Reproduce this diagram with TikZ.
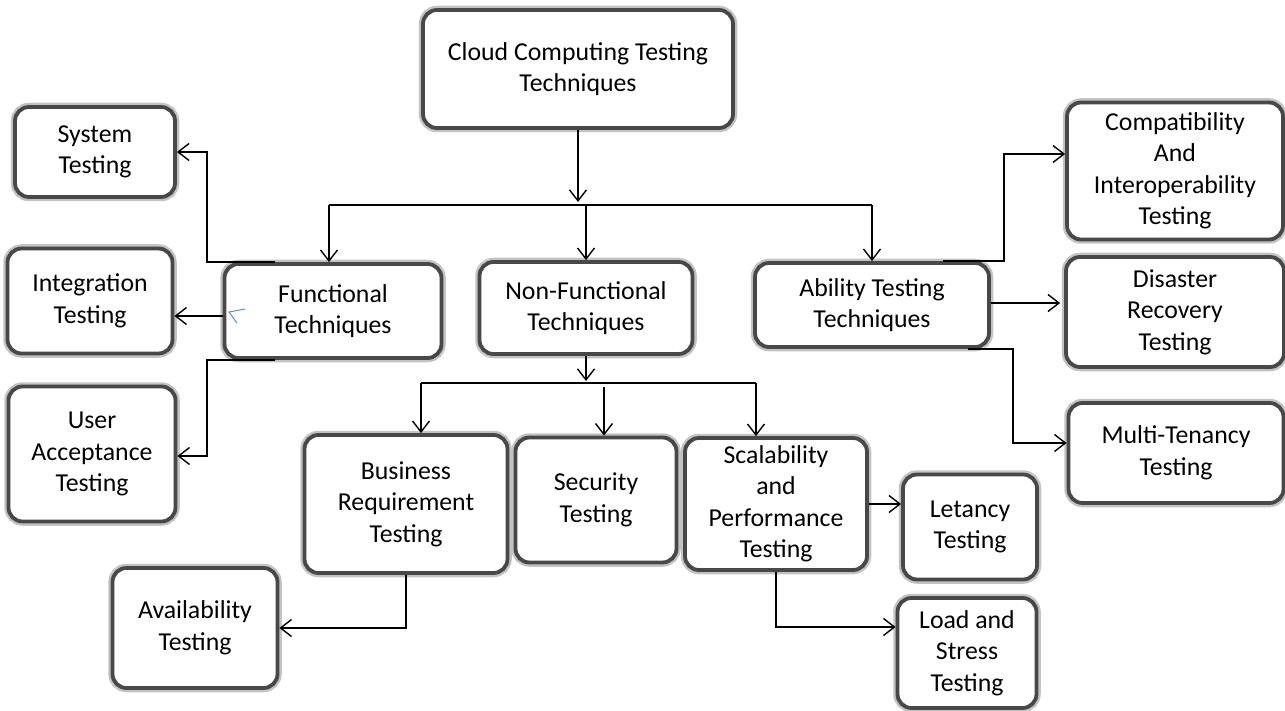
\documentclass[tikz,border=0pt]{standalone}
\usepackage{fontspec}
\setmainfont{Carlito}
\usetikzlibrary{arrows.meta,calc}
\definecolor{boxline}{RGB}{72,72,72}
\definecolor{boxhalo}{RGB}{195,195,195}
\definecolor{strayblue}{RGB}{95,140,215}
\tikzset{tbox/.style={rounded corners=14pt, draw=boxline, line width=3.8pt, fill=white, align=center, inner sep=2pt,
    font=\fontsize{25.8}{31.5}\selectfont, text=black,
    preaction={draw=boxhalo, line width=8.5pt}}}
\tikzset{arr/.style={draw, line width=1.4pt, -{Straight Barb[length=11pt,width=17pt,line width=1.4pt]}}}
\tikzset{bus/.style={draw, line width=1.4pt}}

\begin{document}
\begin{tikzpicture}[x=1pt,y=-1pt]
		\useasboundingbox (0,0) rectangle (1285,711);
		
		\node[tbox, minimum width=310, minimum height=118] (root) at (578,69){Cloud Computing Testing\\Techniques};
		
		\node[tbox, minimum width=217, minimum height=94] (func) at (333,311){Functional\\Techniques};
		\node[tbox, minimum width=213, minimum height=92] (nonf) at (586,308){Non-Functional\\Techniques};
		\node[tbox, minimum width=234, minimum height=84] (abil) at (872,305){Ability Testing\\Techniques};
		
		\node[tbox, minimum width=160, minimum height=90] (sys) at (95,152){System\\Testing};
		\node[tbox, minimum width=165, minimum height=105] (integ) at (90,301){Integration\\Testing};
		\node[tbox, minimum width=167, minimum height=135] (uat) at (92,454){User\\Acceptance\\Testing};
		
		\node[tbox, minimum width=216, minimum height=137] (compat) at (1175,171){Compatibility\\And\\Interoperability\\Testing};
		\node[tbox, minimum width=218, minimum height=110] (disas) at (1175,312){Disaster\\Recovery\\Testing};
		\node[tbox, minimum width=215, minimum height=100] (multi) at (1176,453){Multi-Tenancy\\Testing};
		
		\node[tbox, minimum width=203, minimum height=138] (busreq) at (406,504){Business\\Requirement\\Testing};
		\node[tbox, minimum width=161, minimum height=125] (sec) at (596,500){Security\\Testing};
		\node[tbox, minimum width=182, minimum height=132] (scal) at (776,504){Scalability\\and\\Performance\\Testing};
		
		\node[tbox, minimum width=165, minimum height=120] (avail) at (195,628){Availability\\Testing};
		\node[tbox, minimum width=134, minimum height=105] (let) at (970,527){Letancy\\Testing};
		\node[tbox, minimum width=139, minimum height=110] (load) at (967,653){Load and\\Stress\\Testing};
		
		% top level split
		\coordinate (j1) at (578,205);
		\coordinate (b1l) at (329,205);
		\coordinate (b1r) at (872,205);
		\draw[arr, shorten >=3pt] (root) -- (j1);
		\draw[bus] (b1l) -- (b1r);
		\draw[arr] (b1l) -- (b1l |- func.north);
		\draw[arr] (nonf.north |- j1) -- (nonf.north);
		\draw[arr] (b1r) -- (abil.north);
		
		% functional
		\draw[arr] ([xshift=-58pt]func.north) -- ++(-68,0) |- (sys.east);
		\draw[arr] ([yshift=-5pt]func.west) -- ([yshift=-5pt]func.west -| integ.east);
		\draw[arr] ([xshift=-58pt]func.south) -- ++(-68,0) |- ([yshift=-2pt]uat.east);
		\draw[strayblue, line width=1pt] (245,309) -- (229,312) -- (237,323);
		
		% non-functional
		\coordinate (j2) at (586,383);
		\coordinate (b2l) at (421,383);
		\coordinate (b2r) at (756,383);
		\coordinate (s2) at (604,387);
		\draw[arr, shorten >=2pt] (nonf) -- (j2);
		\draw[bus] (b2l) -- (b2r);
		\draw[arr] (b2l) -- (b2l |- busreq.north);
		\draw[arr] (s2) -- (s2 |- sec.north);
		\draw[arr] (b2r) -- (b2r |- scal.north);
		\draw[arr] (busreq.south) |- (avail.east);
		\draw[arr] (scal.east) -- (scal.east -| let.west);
		\draw[arr] (scal.south) |- ([yshift=26pt]load.west);
		
		% ability
		\draw[arr] ([xshift=71pt]abil.north) -- ++(61,0) |- ([yshift=17pt]compat.west);
		\draw[arr] ([yshift=2pt]abil.east) -- ([yshift=2pt,xshift=-4pt]abil.east -| disas.west);
		\draw[arr] ([xshift=96pt]abil.south) -- ++(45,0) |- ([yshift=10pt]multi.west);
	\end{tikzpicture}
\end{document}
